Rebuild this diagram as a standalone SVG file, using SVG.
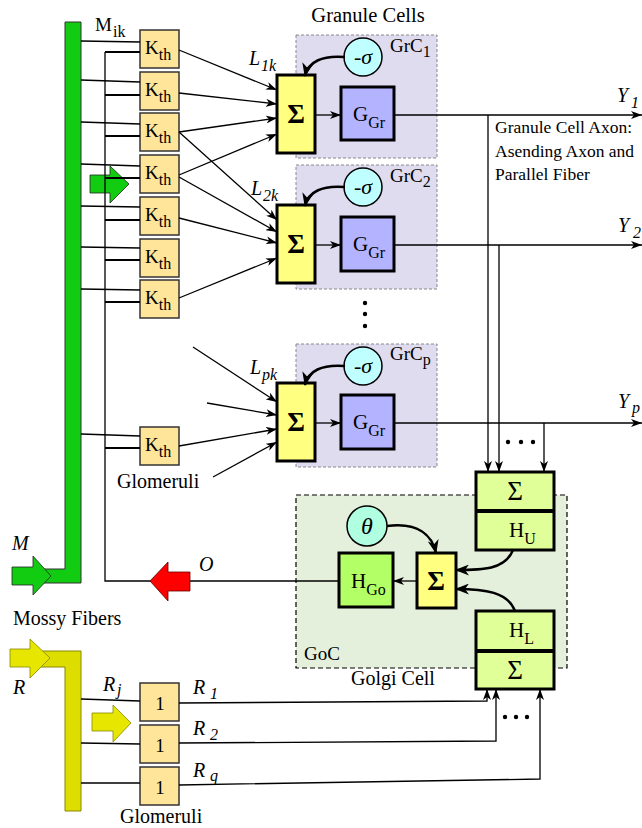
<svg xmlns="http://www.w3.org/2000/svg" width="642" height="828" viewBox="0 0 642 828" font-family="'Liberation Serif', 'DejaVu Serif', serif">
<defs>
<marker id="ah" markerUnits="userSpaceOnUse" markerWidth="11" markerHeight="8" refX="11" refY="4" orient="auto"><path d="M0,0 L11,4 L0,8 L3,4 Z" fill="#000"/></marker>
<marker id="ahb" markerUnits="userSpaceOnUse" markerWidth="14" markerHeight="11" refX="13" refY="5.5" orient="auto"><path d="M0,0 L14,5.5 L0,11 L4,5.5 Z" fill="#000"/></marker>
</defs>
<style>
text{font-family:'Liberation Serif','DejaVu Serif',serif;fill:#000}
.t{font-size:20px}
.it{font-style:italic}
.sub{font-size:16px}
.kth{fill:#ffe599;stroke:#333;stroke-width:1.5}
.sig{fill:#ffff80;stroke:#000;stroke-width:3}
.gg{fill:#b3b3ff;stroke:#000;stroke-width:3}
.cir{fill:#c0ffff;stroke:#000;stroke-width:1.5}
.grc{fill:#e0dcf0;stroke:#888;stroke-width:1;stroke-dasharray:3,2}
.cmp{fill:#e0ff99;stroke:#000;stroke-width:3}
.ln{fill:none;stroke:#000;stroke-width:1.3}
.lt{fill:none;stroke:#000;stroke-width:2.2}
.cv{fill:none;stroke:#000;stroke-width:2.5}
.S{font-size:27px;font-weight:bold;text-anchor:middle}
.Sr{font-size:27px;text-anchor:middle}
.k{font-size:19px}
</style>

<g id="mossy-bar">
<path d="M65,22 H81 V583 H40 V569 H65 Z" fill="#11cc11" stroke="#333" stroke-width="1"/>
<polygon points="12,567 33,567 33,556 51,576 33,595 33,585 12,585" fill="#11cc11" stroke="#222" stroke-width="0.8"/>
<polygon points="90,175 110,175 110,166 129,184 110,203 110,193 90,193" fill="#11cc11" stroke="#222" stroke-width="0.8"/>
<text class="t it" x="12" y="550">M</text>
<text class="k" x="95" y="31">M</text><text class="sub" x="113" y="37">ik</text>
<text class="t" x="13" y="625">Mossy Fibers</text>
</g>

<g id="r-bar">
<path d="M40,651 H81 V811 H65 V667 H40 Z" fill="#dddd00" stroke="#888800" stroke-width="1"/>
<polygon points="10,649 30,649 30,639 50,658 30,678 30,667 10,667" fill="#e6e600" stroke="#888800" stroke-width="0.8"/>
<polygon points="92,713 113,713 113,705 131,723 113,742 113,731 92,731" fill="#e6e600" stroke="#888800" stroke-width="0.8"/>
<text class="t it" x="13" y="694">R</text>
<text class="t it" x="103" y="691">R</text><text class="sub it" x="117" y="695">j</text>
</g>

<g id="grc1">
<rect class="grc" x="296" y="35" width="141" height="123"/>
<text class="k" x="390" y="52">GrC<tspan class="sub" dy="5">1</tspan></text>
<rect class="sig" x="277" y="75" width="38" height="78"/>
<text class="S" x="296" y="123">Σ</text>
<rect class="gg" x="341" y="87" width="53" height="53"/>
<text x="353" y="121" font-size="21">G<tspan class="sub" dy="7">Gr</tspan></text>
<circle class="cir" cx="363" cy="57" r="19"/>
<text x="363" y="64" font-size="22" text-anchor="middle">-<tspan class="it">σ</tspan></text>
</g>
<g id="grc2">
<rect class="grc" x="296" y="165" width="141" height="124"/>
<text class="k" x="390" y="182">GrC<tspan class="sub" dy="5">2</tspan></text>
<rect class="sig" x="277" y="205" width="38" height="78"/>
<text class="S" x="296" y="253">Σ</text>
<rect class="gg" x="341" y="217" width="53" height="54"/>
<text x="353" y="251" font-size="21">G<tspan class="sub" dy="7">Gr</tspan></text>
<circle class="cir" cx="363" cy="187" r="19"/>
<text x="363" y="194" font-size="22" text-anchor="middle">-<tspan class="it">σ</tspan></text>
</g>
<g id="grcp">
<rect class="grc" x="296" y="344" width="141" height="123"/>
<text class="k" x="390" y="360">GrC<tspan class="sub" dy="5">p</tspan></text>
<rect class="sig" x="277" y="383" width="38" height="78"/>
<text class="S" x="296" y="431">Σ</text>
<rect class="gg" x="341" y="395" width="53" height="54"/>
<text x="353" y="429" font-size="21">G<tspan class="sub" dy="7">Gr</tspan></text>
<circle class="cir" cx="363" cy="366" r="19"/>
<text x="363" y="373" font-size="22" text-anchor="middle">-<tspan class="it">σ</tspan></text>
</g>
<text x="368" y="22" text-anchor="middle" font-size="20.5">Granule Cells</text>

<g id="golgi">
<rect x="296" y="495" width="271" height="173" fill="#e4f0dc" stroke="#000" stroke-width="1.2" stroke-dasharray="5,3"/>
<text class="k" x="304" y="660">GoC</text>
<text class="t" x="351" y="685">Golgi Cell</text>
<circle cx="367" cy="526" r="20" fill="#b0ffe0" stroke="#000" stroke-width="1.5"/>
<text x="367" y="534" font-size="24" font-style="italic" text-anchor="middle">θ</text>
<rect x="339" y="553" width="54" height="54" fill="#b3ff66" stroke="#000" stroke-width="3"/>
<text x="351" y="588" font-size="21">H<tspan class="sub" dy="7">Go</tspan></text>
<rect class="sig" x="417" y="553" width="39" height="55"/>
<text class="S" x="436" y="590">Σ</text>
</g>
<g id="upper-sum">
<rect class="cmp" x="476" y="472" width="78" height="78"/>
<line x1="476" y1="511" x2="554" y2="511" stroke="#000" stroke-width="4"/>
<text class="Sr" x="515" y="500">Σ</text>
<text x="509" y="537" font-size="21">H<tspan class="sub" dy="7">U</tspan></text>
</g>
<g id="lower-sum">
<rect class="cmp" x="476" y="611" width="78" height="78"/>
<line x1="476" y1="651" x2="554" y2="651" stroke="#000" stroke-width="4"/>
<text x="509" y="637" font-size="21">H<tspan class="sub" dy="7">L</tspan></text>
<text class="Sr" x="515" y="679">Σ</text>
</g>

<g id="kth-glomeruli">
<rect class="kth" x="140" y="30" width="39" height="38"/>
<rect class="kth" x="140" y="72" width="39" height="38"/>
<rect class="kth" x="140" y="113" width="39" height="38"/>
<rect class="kth" x="140" y="155" width="39" height="38"/>
<rect class="kth" x="140" y="197" width="39" height="38"/>
<rect class="kth" x="140" y="239" width="39" height="38"/>
<rect class="kth" x="140" y="280" width="39" height="38"/>
<rect class="kth" x="140" y="427" width="39" height="38"/>
<g class="k">
<text x="145" y="54">K<tspan class="sub" dy="6">th</tspan></text>
<text x="145" y="96">K<tspan class="sub" dy="6">th</tspan></text>
<text x="145" y="137">K<tspan class="sub" dy="6">th</tspan></text>
<text x="145" y="179">K<tspan class="sub" dy="6">th</tspan></text>
<text x="145" y="221">K<tspan class="sub" dy="6">th</tspan></text>
<text x="145" y="263">K<tspan class="sub" dy="6">th</tspan></text>
<text x="145" y="304">K<tspan class="sub" dy="6">th</tspan></text>
<text x="145" y="451">K<tspan class="sub" dy="6">th</tspan></text>
</g>
<text class="t" x="117" y="488">Glomeruli</text>
</g>

<g id="one-glomeruli">
<rect class="kth" x="140" y="683" width="39" height="38"/>
<rect class="kth" x="140" y="725" width="39" height="38"/>
<rect class="kth" x="140" y="767" width="39" height="38"/>
<text class="k" x="160" y="710" text-anchor="middle">1</text>
<text class="k" x="160" y="752" text-anchor="middle">1</text>
<text class="k" x="160" y="794" text-anchor="middle">1</text>
<text class="t" x="120" y="823">Glomeruli</text>
</g>

<g id="connectors">
<path class="ln" d="M81,41 L140,42 M81,80 L140,82 M81,122 L140,124 M81,164 L140,166 M81,206 L140,207 M81,247 L140,248 M81,289 L140,290 M81,434 L140,436"/>
<path class="lt" d="M105,52 H140 M105,95 H140 M105,136 H140 M105,178 H140 M105,220 H140 M105,260 H140 M105,302 H140 M105,448 H140"/>
<path class="ln" d="M105,52 V581 H152"/>
<path class="ln" d="M81,699 L140,701 M81,743 L140,744 M81,783 L140,783"/>
<g class="ln" marker-end="url(#ah)">
<path d="M179,50 L277,90"/>
<path d="M179,93 L277,104"/>
<path d="M179,132 L277,118"/>
<path d="M179,175 L277,134"/>
<path d="M179,132 L277,220"/>
<path d="M179,177 L277,232"/>
<path d="M179,218 L277,243"/>
<path d="M179,298 L277,258"/>
<path d="M193,347 L277,402"/>
<path d="M207,403 L277,415"/>
<path d="M179,446 L277,429"/>
<path d="M213,477 L277,442"/>
<path d="M315,115 H341"/>
<path d="M315,245 H341"/>
<path d="M315,423 H341"/>
<path d="M394,115 H642"/>
<path d="M394,245 H642"/>
<path d="M394,423 H642"/>
<path d="M488,115 V472"/>
<path d="M499,245 V472"/>
<path d="M544,423 V472"/>
<path d="M179,703 L487,701 V689"/>
<path d="M179,743 L496,741 V689"/>
<path d="M179,785 L540,779 V689"/>
<path d="M417,581 H393"/>
</g>
<path class="ln" d="M339,581 H190"/>
<g class="cv" marker-end="url(#ahb)">
<path d="M345,57 C322,55 308,62 305,76"/>
<path d="M345,187 C322,185 308,192 305,206"/>
<path d="M345,366 C322,364 308,371 305,385"/>
<path d="M387,526 C418,522 432,535 436,553"/>
<path d="M513,550 C505,570 482,570 456,570"/>
<path d="M515,611 C508,592 485,589 456,589"/>
</g>
<g fill="#000">
<circle cx="365" cy="303" r="2.2"/><circle cx="365" cy="314" r="2.2"/><circle cx="365" cy="326" r="2.2"/>
<circle cx="508" cy="442" r="2.2"/><circle cx="521" cy="442" r="2.2"/><circle cx="533" cy="442" r="2.2"/>
<circle cx="505" cy="717" r="2.2"/><circle cx="516" cy="717" r="2.2"/><circle cx="527" cy="717" r="2.2"/>
</g>
<polygon points="150,581 168,562 168,572 190,572 190,591 168,591 168,601" fill="#ff0000" stroke="#600" stroke-width="0.8"/>
<text class="t it" x="199" y="571">O</text>
<text class="t it" x="249" y="65">L</text><text class="sub it" x="261" y="71">1k</text>
<text class="t it" x="251" y="195">L</text><text class="sub it" x="263" y="201">2k</text>
<text class="t it" x="250" y="374">L</text><text class="sub it" x="262" y="380">pk</text>
<text class="t it" x="617" y="102">Y</text><text class="sub it" x="631" y="108">1</text>
<text class="t it" x="618" y="232">Y</text><text class="sub it" x="633" y="238">2</text>
<text class="t it" x="618" y="408">Y</text><text class="sub it" x="632" y="413">p</text>
<text class="t it" x="193" y="694">R</text><text class="sub it" x="210" y="699">1</text>
<text class="t it" x="193" y="735">R</text><text class="sub it" x="210" y="740">2</text>
<text class="t it" x="193" y="777">R</text><text class="sub it" x="210" y="781">q</text>
<text x="495" y="133" font-size="17.5">Granule Cell Axon:</text>
<text x="495" y="157" font-size="17.5">Asending Axon and</text>
<text x="495" y="180" font-size="17.5">Parallel Fiber</text>
</g>
</svg>
